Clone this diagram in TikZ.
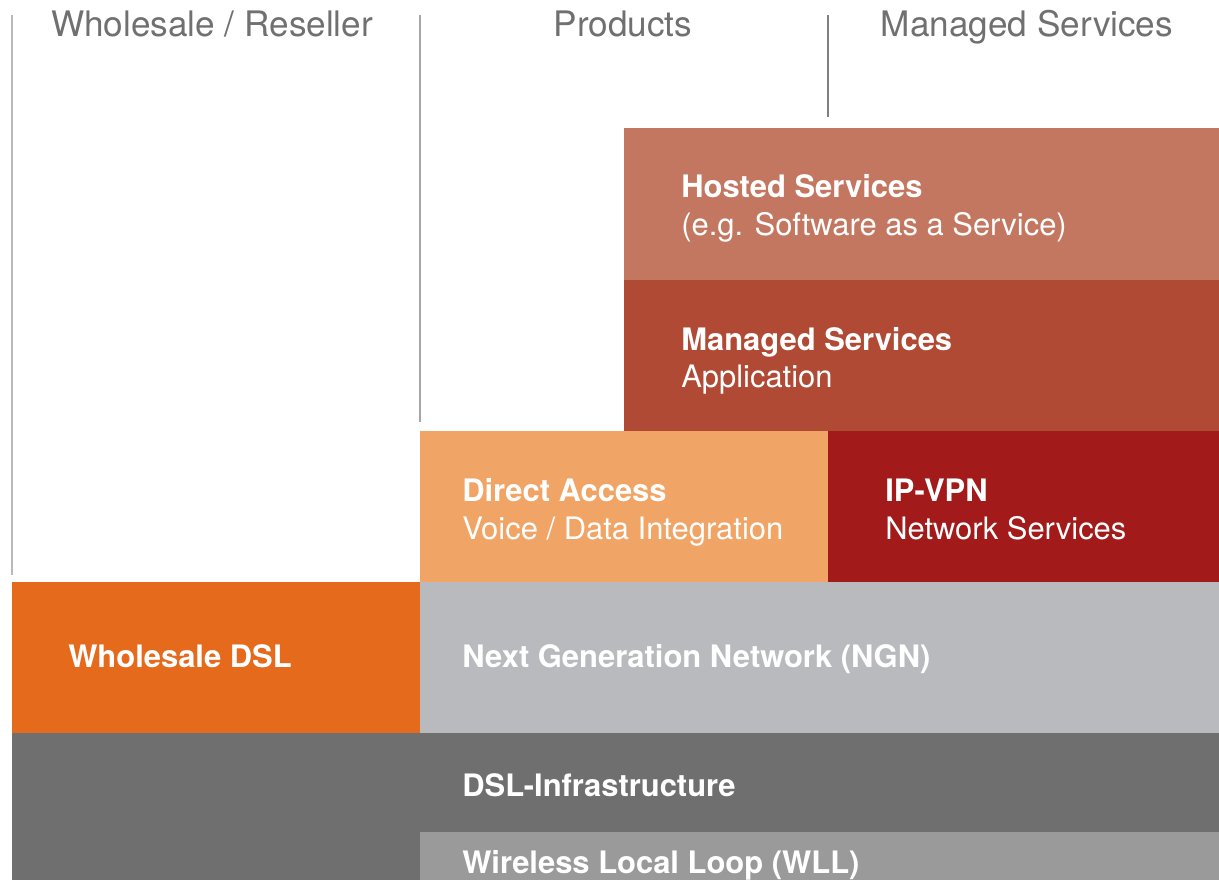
\documentclass[tikz,border=0pt]{standalone}
\usepackage{fontspec}
\setmainfont{TeX Gyre Heros}
\definecolor{hosted}{HTML}{C47760}
\definecolor{managed}{HTML}{B04A35}
\definecolor{direct}{HTML}{F0A465}
\definecolor{ipvpn}{HTML}{A21A1A}
\definecolor{wsdsl}{HTML}{E56A1C}
\definecolor{ngn}{HTML}{B9BABE}
\definecolor{dslinfra}{HTML}{6F6F6F}
\definecolor{wll}{HTML}{9A9A9A}
\definecolor{headgray}{HTML}{707070}
\tikzset{
  head/.style={text=headgray, font=\fontsize{25}{28}\selectfont, anchor=base, inner sep=0pt},
  lbl/.style={text=white, font=\fontsize{22}{26}\selectfont, anchor=base west, inner sep=0pt},
  lblb/.style={lbl, font=\fontsize{22}{26}\selectfont\bfseries},
  divider/.style={line width=1.5pt}
}
\begin{document}
\begin{tikzpicture}[x=0.025cm, y=-0.025cm]
  \useasboundingbox (0, 0) rectangle (1219, 880);

  %divisorias
  \draw[divider, color=gray!55] (12, 15) -- (12, 575);
  \draw[divider, color=gray!70] (420, 15) -- (420, 422);
  \draw[divider, color=gray] (828, 15) -- (828, 117);

  %titulos
  \node[head] (wholesale) at (212, 37) {Wholesale / Reseller};
  \node[head] (products) at (623, 37) {Products};
  \node[head] (managedhead) at (1027, 37) {Managed Services};

  %blocos
  \fill[hosted] (624, 128) rectangle (1219, 280);
  \fill[managed] (624, 280) rectangle (1219, 431);
  \fill[direct] (420, 431) rectangle (828, 582);
  \fill[ipvpn] (828, 431) rectangle (1219, 582);
  \fill[wsdsl] (12, 582) rectangle (420, 733);
  \fill[ngn] (420, 582) rectangle (1219, 733);
  \fill[dslinfra] (12, 733) rectangle (1219, 880);
  \fill[wll] (420, 832) rectangle (1219, 880);

  %textos
  \node[lblb] (hostedtitle) at (681, 198) {Hosted Services};
  \node[lbl] (hostedsub) at (681, 236) {(e.g. Software as a Service)};
  \node[lblb] (managedtitle) at (681, 350) {Managed Services};
  \node[lbl] (managedsub) at (681, 388) {Application};
  \node[lblb] (directtitle) at (462, 501) {Direct Access};
  \node[lbl] (directsub) at (462, 539) {Voice / Data Integration};
  \node[lblb] (ipvpntitle) at (885, 501) {IP-VPN};
  \node[lbl] (ipvpnsub) at (885, 539) {Network Services};
  \node[lblb] (wsdsltitle) at (68, 667) {Wholesale DSL};
  \node[lblb] (ngntitle) at (462, 667) {Next Generation Network (NGN)};
  \node[lblb] (dsltitle) at (462, 796) {DSL-Infrastructure};
  \node[lblb] (wlltitle) at (462, 873) {Wireless Local Loop (WLL)};
\end{tikzpicture}
\end{document}
